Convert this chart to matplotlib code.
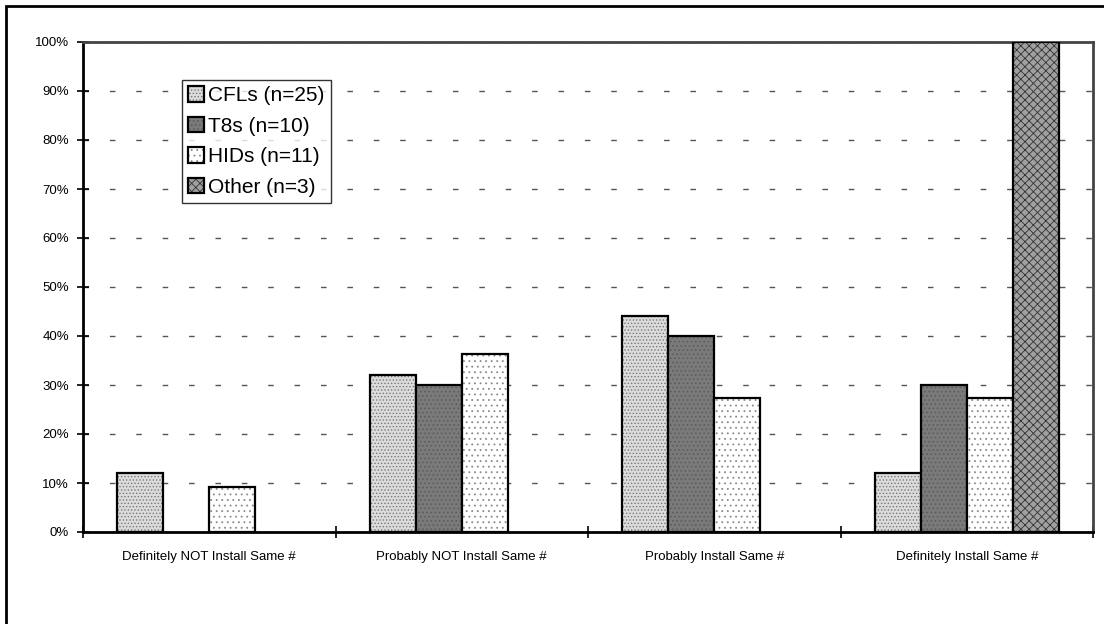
import matplotlib
matplotlib.use("Agg")
import matplotlib.pyplot as plt
import numpy as np
from matplotlib.patches import Rectangle

plt.rcParams['font.family'] = ['Liberation Sans', 'DejaVu Sans']
plt.rcParams['hatch.linewidth'] = 0.6

categories = ["Definitely NOT Install Same #", "Probably NOT Install Same #",
              "Probably Install Same #", "Definitely Install Same #"]
series_names = ["CFLs (n=25)", "T8s (n=10)", "HIDs (n=11)", "Other (n=3)"]
cfls = [12.0, 32.0, 44.0, 12.0]
t8s = [0.0, 30.0, 40.0, 30.0]
hids = [9.09, 36.36, 27.27, 27.27]
other = [0.0, 0.0, 0.0, 100.0]
y_ticks = [0, 10, 20, 30, 40, 50, 60, 70, 80, 90, 100]
y_tick_labels = [f"{v}%" for v in y_ticks]

W, H = 1104, 624
fig = plt.figure(figsize=(W / 100, H / 100), dpi=100)
ax = fig.add_axes([83 / W, 1 - 532 / H, (1093 - 83) / W, (532 - 42) / H])

# outer border (clipped at right/bottom like the reference)
fig.patches.append(Rectangle((6 / W, -0.05), 1.2, 1 - 6 / H + 0.05, transform=fig.transFigure,
                             fill=False, edgecolor='black', linewidth=2, zorder=0))

styles = [
    dict(facecolor='#dcdcdc', hatch='.....', hc='#777777'),
    dict(facecolor='#7a7a7a', hatch='....', hc='#5a5a5a'),
    dict(facecolor='#ffffff', hatch='...', hc='#8a8a8a'),
    dict(facecolor='#a0a0a0', hatch='xxxx', hc='#333333'),
]
data = [cfls, t8s, hids, other]
x = np.arange(len(categories))
bw = 46 / 252.5
handles = []
for i, (vals, st) in enumerate(zip(data, styles)):
    pos = x + (i - 1.5) * bw
    bars = ax.bar(pos, vals, width=bw, facecolor=st['facecolor'], hatch=st['hatch'],
                  edgecolor='black', linewidth=1.6, zorder=3)
    for b, v in zip(bars, vals):
        b._hatch_color = matplotlib.colors.to_rgba(st['hc'])
        if v == 0:
            b.set_visible(False)
    handles.append(bars)

ax.set_xlim(-0.5, 3.5)
ax.set_ylim(0, 100)
ax.set_yticks(y_ticks)
ax.set_yticklabels(y_tick_labels, fontsize=9.5)
ax.set_xticks([-0.5, 0.5, 1.5, 2.5, 3.5])
ax.set_xticklabels([])
ax.set_xticks(x, minor=True)
ax.set_xticklabels(categories, minor=True, fontsize=9.5)
ax.tick_params(axis='x', which='minor', length=0, pad=14)
ax.tick_params(axis='x', which='major', direction='inout', length=8, width=1.2)
ax.tick_params(axis='y', direction='inout', length=8, width=1.2, pad=6)

ax.yaxis.grid(True, linestyle=(0, (4, 15)), color='#555555', linewidth=1.0, zorder=1)
ax.set_axisbelow(True)
for s in ['left', 'bottom']:
    ax.spines[s].set_linewidth(2)
    ax.spines[s].set_color('black')
for s in ['top', 'right']:
    ax.spines[s].set_linewidth(2)
    ax.spines[s].set_color('#444444')

leg = ax.legend([h[0] if h[0].get_visible() else h[-1] for h in handles], series_names,
                loc='upper left',
                bbox_to_anchor=((182 - 83) / 1010, 1 - (80 - 42) / 490),
                fontsize=15, frameon=True, fancybox=False, edgecolor='black',
                handlelength=0.75, handleheight=0.75, handletextpad=0.2,
                borderpad=0.3, labelspacing=0.55, borderaxespad=0)
leg.get_frame().set_linewidth(1.0)
leg.set_zorder(5)

fig.savefig("out.png", dpi=100)
